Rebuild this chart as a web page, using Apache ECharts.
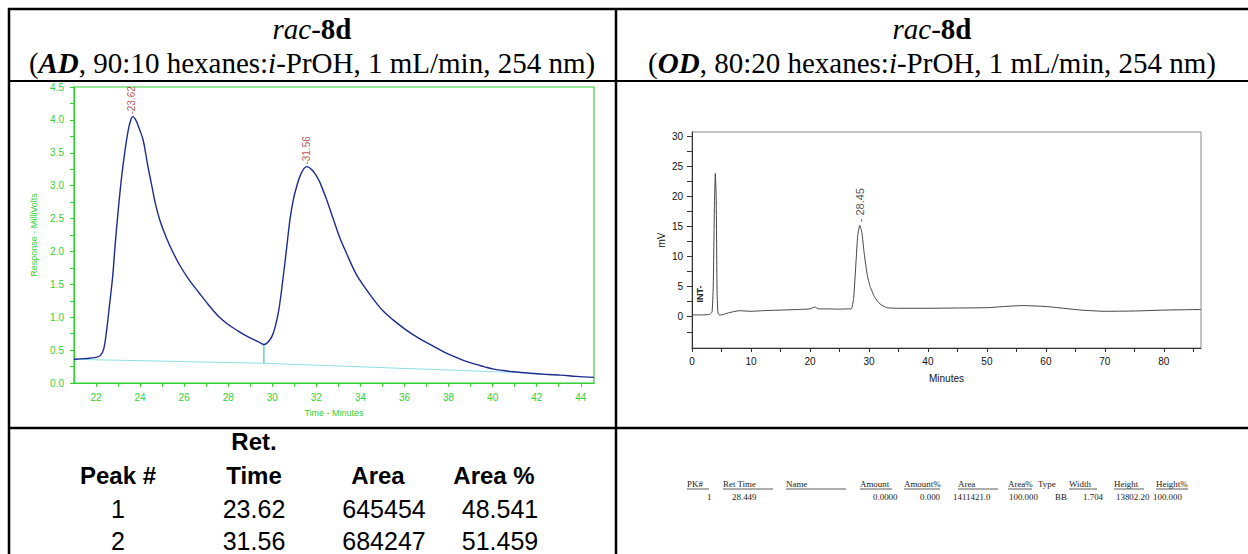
<!DOCTYPE html>
<html>
<head>
<meta charset="utf-8">
<script src="https://cdn.jsdelivr.net/npm/echarts@6/dist/echarts.min.js"></script>
<style>
html,body{margin:0;padding:0;background:#fff;}
#c{width:1248px;height:554px;}
</style>
</head>
<body>
<div id="c"></div>
<script>
// ---------- DATA ----------
// Left chromatogram (AD column)
const adTime = [21.0,21.5,22.0,22.2,22.35,22.48,22.6,22.75,22.86,23.0,23.16,23.3,23.46,23.56,23.66,23.8,23.95,24.14,24.35,24.5,24.7,24.9,25.2,25.5,25.8,26.2,26.7,27.1,27.54,28.0,28.4,28.8,29.1,29.4,29.62,29.8,30.0,30.15,30.3,30.49,30.65,30.8,30.95,31.1,31.3,31.56,31.8,32.0,32.16,32.45,32.76,33.05,33.37,33.8,34.27,34.76,35.1,35.48,36.1,36.7,37.36,37.8,38.26,38.7,39.16,39.6,40.05,40.5,40.95,41.5,42.0,42.5,43.1,43.8,44.6];
const adSignal = [0.36,0.37,0.39,0.42,0.52,0.8,1.15,1.6,2.07,2.6,3.13,3.5,3.84,3.98,4.05,4.0,3.88,3.69,3.3,3.05,2.72,2.47,2.2,1.98,1.79,1.58,1.36,1.19,1.02,0.89,0.8,0.72,0.67,0.62,0.585,0.62,0.72,0.88,1.12,1.6,2.05,2.48,2.78,2.98,3.18,3.29,3.24,3.15,3.05,2.8,2.5,2.22,1.97,1.66,1.42,1.2,1.07,0.96,0.80,0.67,0.55,0.47,0.40,0.34,0.29,0.25,0.21,0.19,0.17,0.155,0.14,0.13,0.12,0.10,0.085];
const adBaseTime = [21.0, 29.62, 41.0];
const adBaseSignal = [0.36, 0.30, 0.16];
const adDropTime = [29.62, 29.62];
const adDropSignal = [0.585, 0.30];
const adPeakTimes = [23.62, 31.56];
const adPeakHeights = [4.05, 3.29];
const adXLabels = [22,24,26,28,30,32,34,36,38,40,42,44];
const adXTicks = [22,23,24,25,26,27,28,29,30,31,32,33,34,35,36,37,38,39,40,41,42,43,44];
const adYLabels = [0,0.5,1,1.5,2,2.5,3,3.5,4,4.5];
const adYTicks = [0,0.25,0.5,0.75,1,1.25,1.5,1.75,2,2.25,2.5,2.75,3,3.25,3.5,3.75,4,4.25,4.5];

// Right chromatogram (OD column)
const odTime = [0,1,2,3,3.4,3.6,3.8,3.95,4.1,4.25,4.4,4.6,5,6,8,10,12,15,18,20,20.8,21.5,23,25,26,27,27.4,27.8,28.1,28.45,28.8,29.2,29.7,30.2,31,31.9,33,35,40,45,50,53,56,60,63,66,70,75,80,86.3];
const odSignal = [0.3,0.3,0.3,0.4,0.8,5,18,23.8,20,4,0.6,0.3,0.3,0.6,1.0,0.9,1.0,1.1,1.2,1.3,1.6,1.3,1.3,1.25,1.3,1.3,3,9,13.5,15.2,14,10.5,7,5,3.2,2.1,1.5,1.4,1.4,1.45,1.5,1.7,1.85,1.7,1.4,1.1,0.9,0.95,1.1,1.2];
const odPeakTimes = [28.45];
const odPeakHeights = [15.2];
const odXLabels = [0,10,20,30,40,50,60,70,80];
const odXTicks = [0,5,10,15,20,25,30,35,40,45,50,55,60,65,70,75,80,85];
const odYLabels = [0,5,10,15,20,25,30];
const odYTicks = [-2.5,0,2.5,5,7.5,10,12.5,15,17.5,20,22.5,25,27.5,30];

// Tables
const adTableHeaders = ['Peak #', 'Ret.\nTime', 'Area', 'Area %'];
const adTableRows = [
  ['1', '23.62', '645454', '48.541'],
  ['2', '31.56', '684247', '51.459']
];
const odTableHeaders = ['PK#','Ret Time','Name','Amount','Amount%','Area','Area%','Type','Width','Height','Height%'];
const odTableRow = ['1','28.449','','0.0000','0.000','1411421.0','100.000','BB','1.704','13802.20','100.000'];

// Titles
const titleLeft = '{i|rac}-{b|8d}';
const subLeft = '({bi|AD}, 90:10 hexanes:{i|i}-PrOH, 1 mL/min, 254 nm)';
const titleRight = '{i|rac}-{b|8d}';
const subRight = '({bi|OD}, 80:20 hexanes:{i|i}-PrOH, 1 mL/min, 254 nm)';

// ---------- CHART ----------
const GREEN = '#33d033';
const NAVY = '#1c2b8f';
const serif = '"Liberation Serif", "Times New Roman", serif';
const sans = '"Liberation Sans", Arial, sans-serif';

const zip = (a, b) => a.map((v, i) => [v, b[i]]);

const richSerif = {
  i: {fontFamily: serif, fontSize: 29, fontStyle: 'italic', fill: '#000'},
  b: {fontFamily: serif, fontSize: 29, fontWeight: 'bold', fill: '#000'},
  bi: {fontFamily: serif, fontSize: 29, fontWeight: 'bold', fontStyle: 'italic', fill: '#000'}
};

const graphics = [];
function line(x1, y1, x2, y2, w, c) {
  graphics.push({type: 'line', shape: {x1, y1, x2, y2}, style: {stroke: c || '#000', lineWidth: w}, silent: true, z: 100});
}
function text(x, y, t, st, extra) {
  graphics.push(Object.assign({type: 'text', x, y, silent: true, z: 100,
    style: Object.assign({text: t, align: 'center', verticalAlign: 'middle', fill: '#000'}, st)}, extra || {}));
}

// table borders
line(8, 9, 1248, 9, 2.5);
line(9, 8, 9, 554, 2.5);
line(616, 8, 616, 554, 2.5);
line(8, 81, 1248, 81, 2);
line(8, 428, 1248, 428, 2.5);

// titles
[[312, titleLeft, subLeft], [932, titleRight, subRight]].forEach(([cx, t, s]) => {
  text(cx, 29, t, {fontFamily: serif, fontSize: 29, rich: richSerif});
  text(cx, 63, s, {fontFamily: serif, fontSize: 29, rich: richSerif});
});

// left table
const adColX = [118, 254, 378, 494];
adTableHeaders.forEach((h, i) => {
  const parts = h.split('\n');
  if (parts.length === 2) {
    text(adColX[i], 441, parts[0], {fontFamily: sans, fontSize: 24, fontWeight: 'bold'});
    text(adColX[i], 475, parts[1], {fontFamily: sans, fontSize: 24, fontWeight: 'bold'});
  } else {
    text(adColX[i], 475, h, {fontFamily: sans, fontSize: 24, fontWeight: 'bold'});
  }
});
adTableRows.forEach((r, ri) => {
  r.forEach((v, i) => text(adColX[i] + (i === 3 ? 6 : (i === 2 ? 6 : 0)), 509 + ri * 32, v, {fontFamily: sans, fontSize: 25}));
});

// right table (scanned, small serif)
const odHeadX = [687,723,786,860,904,958,1008,1038,1069,1114,1156];
const odHeadW = [22,50,60,32,36,40,24,20,28,30,32];
odTableHeaders.forEach((h, i) => {
  text(odHeadX[i], 484, h, {fontFamily: serif, fontSize: 8.5, align: 'left', fill: '#222'}, {scaleX: 1.05});
  if (h !== 'Type') line(odHeadX[i], 489, odHeadX[i] + odHeadW[i], 489, 0.8, '#333');
});
const odRowX = [707,732,786,873,920,953,1009,1055,1083,1116,1153];
odTableRow.forEach((v, i) => {
  if (v) text(odRowX[i], 497, v, {fontFamily: serif, fontSize: 8.5, align: 'left', fill: '#222'}, {scaleX: 1.05});
});

// INT- marker on right chromatogram
text(700, 294, 'INT-', {fontFamily: sans, fontSize: 9, fontWeight: 'bold', fill: '#222'}, {rotation: Math.PI / 2});

const chart = echarts.init(document.getElementById('c'), null, {renderer: 'svg', width: 1248, height: 554});

chart.setOption({
  animation: false,
  backgroundColor: '#fff',
  grid: [
    {left: 74, top: 87, width: 520, height: 296, show: true, borderColor: GREEN, borderWidth: 1.2, backgroundColor: 'transparent', containLabel: false},
    {left: 692, top: 132, width: 509, height: 216, show: true, borderColor: '#888', borderWidth: 1, backgroundColor: 'transparent', containLabel: false}
  ],
  xAxis: [
    {gridIndex: 0, type: 'value', min: 21, max: 44.6,
     axisLine: {show: true, onZero: false, lineStyle: {color: GREEN, width: 1.2}},
     axisTick: {show: true, customValues: adXTicks, length: 4, lineStyle: {color: GREEN}},
     axisLabel: {customValues: adXLabels, color: GREEN, fontSize: 10, margin: 9, fontFamily: sans},
     splitLine: {show: false},
     name: 'Time - Minutes', nameLocation: 'middle', nameGap: 25,
     nameTextStyle: {color: GREEN, fontSize: 9, fontFamily: sans}},
    {gridIndex: 1, type: 'value', min: 0, max: 86.3,
     axisLine: {show: true, onZero: false, lineStyle: {color: '#333', width: 1}},
     axisTick: {show: true, customValues: odXTicks, length: 4, lineStyle: {color: '#333'}},
     axisLabel: {customValues: odXLabels, color: '#111', fontSize: 10, margin: 8, fontFamily: sans},
     splitLine: {show: false},
     name: 'Minutes', nameLocation: 'middle', nameGap: 25,
     nameTextStyle: {color: '#111', fontSize: 10, fontFamily: sans}}
  ],
  yAxis: [
    {gridIndex: 0, type: 'value', min: 0, max: 4.5,
     axisLine: {show: true, onZero: false, lineStyle: {color: GREEN, width: 1.2}},
     axisTick: {show: true, customValues: adYTicks, length: 4, lineStyle: {color: GREEN}},
     axisLabel: {customValues: adYLabels, color: GREEN, fontSize: 10, margin: 10, fontFamily: sans,
                 formatter: v => Number(v).toFixed(1)},
     splitLine: {show: false},
     name: 'Response - MilliVolts', nameLocation: 'middle', nameGap: 36, nameRotate: 90,
     nameTextStyle: {color: GREEN, fontSize: 9, fontFamily: sans}},
    {gridIndex: 1, type: 'value', min: -5.2, max: 30.7,
     axisLine: {show: true, onZero: false, lineStyle: {color: '#333', width: 1}},
     axisTick: {show: true, customValues: odYTicks, length: 5, lineStyle: {color: '#333'}},
     axisLabel: {customValues: odYLabels, color: '#111', fontSize: 10, margin: 9, fontFamily: sans},
     splitLine: {show: false},
     name: 'mV', nameLocation: 'middle', nameGap: 26, nameRotate: 90,
     nameTextStyle: {color: '#111', fontSize: 10, fontFamily: sans}}
  ],
  series: [
    {type: 'line', xAxisIndex: 0, yAxisIndex: 0, data: zip(adBaseTime, adBaseSignal), symbol: 'none',
     lineStyle: {color: '#8fdfe6', width: 1}, z: 2},
    {type: 'line', xAxisIndex: 0, yAxisIndex: 0, data: zip(adDropTime, adDropSignal), symbol: 'none',
     lineStyle: {color: '#1fb8c4', width: 1}, z: 2},
    {type: 'line', xAxisIndex: 0, yAxisIndex: 0, data: zip(adTime, adSignal), symbol: 'none', smooth: 0.35,
     lineStyle: {color: NAVY, width: 1.4}, z: 3},
    {type: 'scatter', xAxisIndex: 0, yAxisIndex: 0, data: zip(adPeakTimes, adPeakHeights), symbolSize: 0,
     label: {show: true, position: 'top', distance: 2, rotate: 90, align: 'left', verticalAlign: 'middle',
             formatter: p => '-' + p.value[0].toFixed(2), color: '#a52a2a', fontSize: 10, fontFamily: sans}, z: 4},
    {type: 'line', xAxisIndex: 1, yAxisIndex: 1, data: zip(odTime, odSignal), symbol: 'none', smooth: 0.15,
     lineStyle: {color: '#444', width: 1}, z: 3},
    {type: 'scatter', xAxisIndex: 1, yAxisIndex: 1, data: zip(odPeakTimes, odPeakHeights), symbolSize: 0,
     label: {show: true, position: 'top', distance: 3, rotate: 90, align: 'left', verticalAlign: 'middle',
             formatter: p => '- ' + p.value[0].toFixed(2), color: '#222', fontSize: 11, fontFamily: sans}, z: 4}
  ],
  graphic: graphics
});
</script>
</body>
</html>
